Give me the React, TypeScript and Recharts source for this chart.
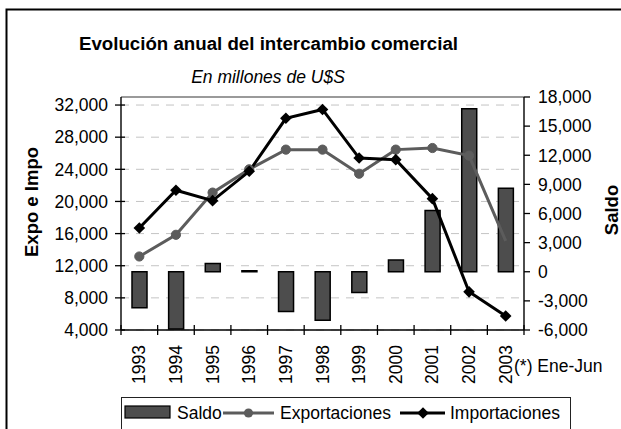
import React from 'react';
import { ComposedChart, Bar, Line, XAxis, YAxis, CartesianGrid, ReferenceLine } from 'recharts';

const years = ['1993', '1994', '1995', '1996', '1997', '1998', '1999', '2000', '2001', '2002', '2003'];
const saldo = [-3700, -5900, 850, 100, -4100, -5000, -2150, 1200, 6300, 16800, 8600];
const exportaciones = [13150, 15850, 21100, 24000, 26450, 26450, 23450, 26450, 26650, 25700, 15100];
const importaciones = [16700, 21400, 20100, 23750, 30350, 31450, 25400, 25200, 20350, 8750, 5750];
const leftTicks = [4000, 8000, 12000, 16000, 20000, 24000, 28000, 32000];
const rightTicks = [-6000, -3000, 0, 3000, 6000, 9000, 12000, 15000, 18000];

const data = years.map((y, i) => ({
  year: y,
  saldo: saldo[i],
  exportaciones: exportaciones[i],
  importaciones: importaciones[i],
}));

const W = 621;
const H = 429;
const M = { top: 97, right: 37, bottom: 69, left: 61 };
const YW = 60;
const plotW = W - M.left - M.right - 2 * YW;
const halfBand = plotW / years.length / 2;
const FONT = '"Liberation Sans", Arial, Helvetica, sans-serif';
const FS = 17.5;
const BAR_FILL = '#4d4d4d';
const EXP_COLOR = '#5c5c5c';
const IMP_COLOR = '#000000';
const fmt = (v: number) => v.toLocaleString('en-US');

const XTick = (props: any) => {
  const { x, y, payload, index } = props;
  return (
    <g>
      <line x1={x - halfBand} x2={x - halfBand} y1={y - 5} y2={y + 5} stroke="#000" strokeWidth={1.3} />
      {index === years.length - 1 && (
        <line x1={x + halfBand} x2={x + halfBand} y1={y - 5} y2={y + 5} stroke="#000" strokeWidth={1.3} />
      )}
      <text
        transform={`translate(${x},${y + 15}) rotate(-90)`}
        textAnchor="end"
        dominantBaseline="central"
        fontSize={FS}
        fontFamily={FONT}
        fill="#000"
      >
        {payload.value}
      </text>
    </g>
  );
};

const LeftTick = (props: any) => {
  const { x, y, payload } = props;
  return (
    <g>
      <line x1={x - 6} x2={x + 4} y1={y} y2={y} stroke="#000" strokeWidth={1.3} />
      <text x={x - 13} y={y} dy="0.36em" textAnchor="end" fontSize={FS} fontFamily={FONT} fill="#000">
        {fmt(payload.value)}
      </text>
    </g>
  );
};

const RightTick = (props: any) => {
  const { x, y, payload } = props;
  return (
    <g>
      <line x1={x} x2={x + 6} y1={y} y2={y} stroke="#000" strokeWidth={1.3} />
      <text x={x + 14} y={y} dy="0.36em" textAnchor="start" fontSize={FS} fontFamily={FONT} fill="#000">
        {fmt(payload.value)}
      </text>
    </g>
  );
};

const ExpDot = (props: any) => {
  const { cx, cy, index } = props;
  if (index === years.length - 1 || cx == null || cy == null) return <g key={`e${index}`} />;
  return <circle key={`e${index}`} cx={cx} cy={cy} r={4.6} fill={EXP_COLOR} stroke={EXP_COLOR} strokeWidth={1} />;
};

const ImpDot = (props: any) => {
  const { cx, cy, index } = props;
  if (cx == null || cy == null) return <g key={`i${index}`} />;
  const s = 5.8;
  return (
    <polygon
      key={`i${index}`}
      points={`${cx},${cy - s} ${cx + s},${cy} ${cx},${cy + s} ${cx - s},${cy}`}
      fill={IMP_COLOR}
    />
  );
};

export default function App() {
  return (
    <div style={{ width: W, height: H, position: 'relative', overflow: 'hidden', background: '#fff' }}>
      <style>{'html,body{margin:0;padding:0;overflow:hidden;}'}</style>
      <div style={{ position: 'absolute', left: 0, top: 0 }}>
        <ComposedChart width={W} height={H} data={data} margin={M}>
          <CartesianGrid yAxisId="left" vertical={false} stroke="#c4c4c4" strokeDasharray="8 7" />
          <ReferenceLine yAxisId="left" y={33000} stroke="#9a9a9a" strokeWidth={2} />
          <XAxis
            dataKey="year"
            height={30}
            interval={0}
            tickSize={0}
            tickMargin={0}
            tickLine={false}
            axisLine={{ stroke: '#000', strokeWidth: 1.4 }}
            tick={<XTick />}
          />
          <YAxis
            yAxisId="left"
            orientation="left"
            width={YW}
            domain={[4000, 33000]}
            ticks={leftTicks}
            interval={0}
            tickSize={0}
            tickMargin={0}
            tickLine={false}
            axisLine={{ stroke: '#000', strokeWidth: 1.4 }}
            tick={<LeftTick />}
          />
          <YAxis
            yAxisId="right"
            orientation="right"
            width={YW}
            domain={[-6000, 18000]}
            ticks={rightTicks}
            interval={0}
            tickSize={0}
            tickMargin={0}
            tickLine={false}
            axisLine={{ stroke: '#000', strokeWidth: 1.4 }}
            tick={<RightTick />}
          />
          <Bar
            yAxisId="right"
            dataKey="saldo"
            barSize={15}
            fill={BAR_FILL}
            stroke="#000"
            strokeWidth={1.5}
            isAnimationActive={false}
          />
          <Line
            yAxisId="left"
            dataKey="exportaciones"
            stroke={EXP_COLOR}
            strokeWidth={3}
            dot={ExpDot}
            activeDot={false}
            isAnimationActive={false}
          />
          <Line
            yAxisId="left"
            dataKey="importaciones"
            stroke={IMP_COLOR}
            strokeWidth={3}
            dot={ImpDot}
            activeDot={false}
            isAnimationActive={false}
          />
        </ComposedChart>
      </div>
      <svg
        width={W}
        height={H}
        style={{ position: 'absolute', left: 0, top: 0, pointerEvents: 'none' }}
        fontFamily={FONT}
      >
        <rect x={6.5} y={9.5} width={W} height={H} fill="none" stroke="#000" strokeWidth={2} />
        <text x={268.5} y={50} textAnchor="middle" fontSize={18.7} fontWeight="bold" fill="#000">
          Evolución anual del intercambio comercial
        </text>
        <text x={268} y={82.5} textAnchor="middle" fontSize={17.5} fontStyle="italic" fill="#000">
          En millones de U$S
        </text>
        <text
          transform="translate(31,202) rotate(-90)"
          textAnchor="middle"
          dominantBaseline="central"
          fontSize={18.5}
          fontWeight="bold"
          fill="#000"
        >
          Expo e Impo
        </text>
        <text
          transform="translate(611,210) rotate(-90)"
          textAnchor="middle"
          dominantBaseline="central"
          fontSize={18.5}
          fontWeight="bold"
          fill="#000"
        >
          Saldo
        </text>
        <text x={514} y={366} dy="0.36em" fontSize={FS} fill="#000">
          (*) Ene-Jun
        </text>
      </svg>
      <div
        style={{
          position: 'absolute',
          left: 121,
          top: 397,
          width: 450,
          height: 60,
          border: '1px solid #222',
          boxSizing: 'border-box',
        }}
      >
        <svg width={450} height={40} fontFamily={FONT} style={{ position: 'absolute', left: -1, top: -1 }}>
          <rect x={4} y={9} width={45} height={12} fill={BAR_FILL} stroke="#000" strokeWidth={1.2} />
          <text x={56} y={16} dy="0.36em" fontSize={FS} fill="#000">Saldo</text>
          <line x1={102} x2={153} y1={16} y2={16} stroke={EXP_COLOR} strokeWidth={3} />
          <circle cx={127.5} cy={16} r={4.6} fill={EXP_COLOR} />
          <text x={159} y={16} dy="0.36em" fontSize={FS} fill="#000">Exportaciones</text>
          <line x1={279} x2={324} y1={16} y2={16} stroke={IMP_COLOR} strokeWidth={3} />
          <polygon points="302,10.2 307.8,16 302,21.8 296.2,16" fill={IMP_COLOR} />
          <text x={329} y={16} dy="0.36em" fontSize={FS} fill="#000">Importaciones</text>
        </svg>
      </div>
    </div>
  );
}
